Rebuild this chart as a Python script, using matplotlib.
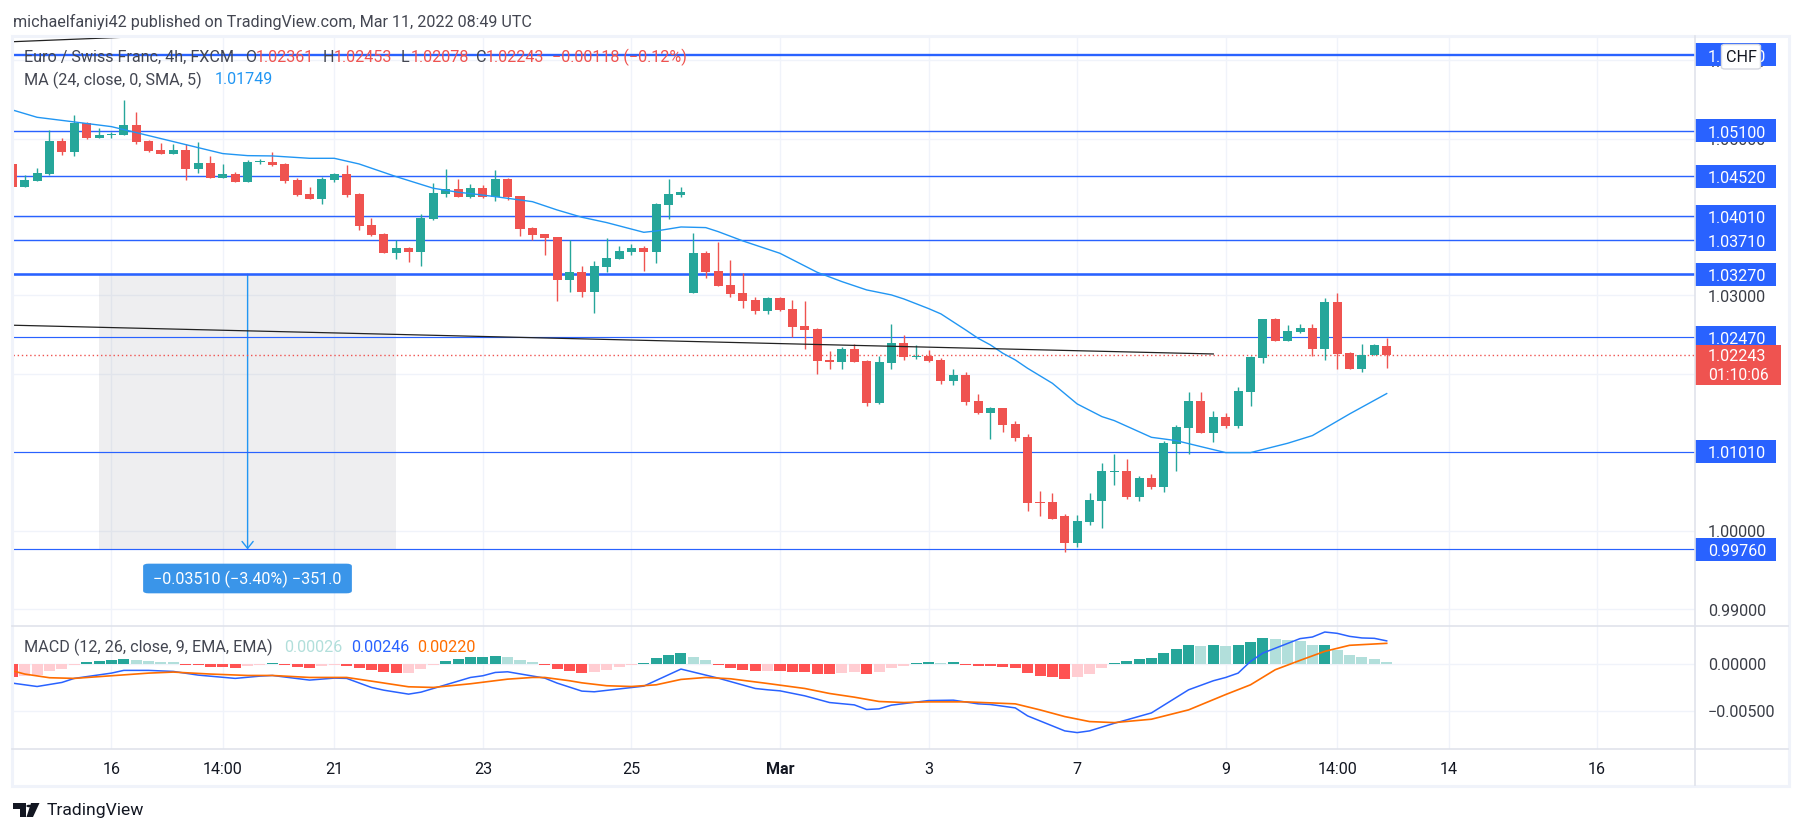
import numpy as np
import matplotlib
matplotlib.use('Agg')
import matplotlib.pyplot as plt
import matplotlib.transforms as mtransforms
from matplotlib.patches import Rectangle, FancyBboxPatch, Polygon

plt.rcParams['font.family'] = ['Roboto', 'DejaVu Sans']

# ohlc, one value per 4h bar
opens = [1.04678, 1.04389, 1.04465, 1.04555, 1.04971, 1.04835, 1.05201, 1.05014, 1.05044, 1.05052,
         1.05175, 1.04971, 1.04857, 1.04806, 1.04857, 1.04618, 1.04691, 1.04504, 1.0455, 1.04453,
         1.04704, 1.04704, 1.04678, 1.04474, 1.04295, 1.04236, 1.04474, 1.0455, 1.04295, 1.039,
         1.03785, 1.03543, 1.03607, 1.03555, 1.03976, 1.04295, 1.04359, 1.04257, 1.04372, 1.04257,
         1.04487, 1.0427, 1.03862, 1.03785, 1.03747, 1.03198, 1.033, 1.03045, 1.03365, 1.03467,
         1.03556, 1.03607, 1.03556, 1.04155, 1.04283, 1.03033, 1.03543, 1.03314, 1.03135, 1.03033,
         1.02944, 1.02803, 1.02969, 1.02829, 1.02612, 1.02574, 1.02177, 1.02152, 1.02318, 1.02165,
         1.01629, 1.02139, 1.02394, 1.02216, 1.02228, 1.02177, 1.01909, 1.01986, 1.01654, 1.01501,
         1.01565, 1.01361, 1.01195, 1.00366, 1.00366, 1.00187, 0.99843, 1.00111, 1.00379, 1.00749,
         1.00761, 1.0043, 1.00672, 1.00557, 1.01106, 1.0131, 1.01654, 1.01246, 1.0145, 1.01335,
         1.01769, 1.02203, 1.02701, 1.0242, 1.02535, 1.02586, 1.02318, 1.02917, 1.02267, 1.02063,
         1.02241, 1.02361]
highs = [1.04678, 1.04538, 1.04623, 1.05112, 1.0501, 1.05303, 1.05218, 1.05133, 1.05082, 1.05494,
         1.05341, 1.04984, 1.04942, 1.04933, 1.04937, 1.04954, 1.0478, 1.04678, 1.04572, 1.04729,
         1.04742, 1.04831, 1.04691, 1.04499, 1.04385, 1.04512, 1.04559, 1.04665, 1.04308, 1.03989,
         1.03798, 1.03709, 1.03619, 1.0404, 1.04436, 1.04614, 1.04487, 1.04423, 1.0441, 1.04601,
         1.04499, 1.0427, 1.03874, 1.03785, 1.03747, 1.03709, 1.03377, 1.03441, 1.0373, 1.03632,
         1.03658, 1.03632, 1.04177, 1.04487, 1.04385, 1.03798, 1.03569, 1.03684, 1.03454, 1.03288,
         1.02982, 1.02982, 1.02982, 1.02944, 1.02931, 1.02586, 1.02292, 1.02343, 1.02381, 1.02177,
         1.02228, 1.02638, 1.02496, 1.02369, 1.02305, 1.02203, 1.02063, 1.02024, 1.01744, 1.01578,
         1.01565, 1.01399, 1.01233, 1.00506, 1.00481, 1.00213, 1.002, 1.00481, 1.00863, 1.00978,
         1.00914, 1.00698, 1.00723, 1.01144, 1.01348, 1.01769, 1.01769, 1.01527, 1.01501, 1.01833,
         1.02229, 1.02701, 1.02713, 1.02624, 1.02637, 1.02637, 1.02968, 1.03032, 1.0228, 1.02382,
         1.02382, 1.02453]
lows = [1.04389, 1.04389, 1.04461, 1.04538, 1.04797, 1.04784, 1.05001, 1.05014, 1.05005, 1.05052,
        1.04937, 1.04835, 1.0481, 1.04806, 1.04474, 1.04567, 1.04495, 1.04499, 1.04453, 1.04453,
        1.04678, 1.04657, 1.0444, 1.0427, 1.04236, 1.04172, 1.04453, 1.04257, 1.03836, 1.0376,
        1.03543, 1.03466, 1.03428, 1.03377, 1.03964, 1.04257, 1.04257, 1.04244, 1.04244, 1.04206,
        1.04219, 1.0376, 1.03709, 1.03517, 1.0293, 1.03045, 1.02981, 1.02783, 1.03301, 1.03467,
        1.03518, 1.03314, 1.03416, 1.03977, 1.04258, 1.03033, 1.03224, 1.03122, 1.02982, 1.02842,
        1.02765, 1.02765, 1.02803, 1.02472, 1.02319, 1.02, 1.02063, 1.02063, 1.02152, 1.01591,
        1.01616, 1.02063, 1.02177, 1.0219, 1.02152, 1.01871, 1.01858, 1.01603, 1.01488, 1.0117,
        1.01259, 1.01144, 1.00251, 1.00187, 1.00149, 0.99728, 0.99792, 1.00073, 1.00034, 1.00583,
        1.00404, 1.00379, 1.00532, 1.00494, 1.00761, 1.00978, 1.01246, 1.01131, 1.0131, 1.0131,
        1.01591, 1.02139, 1.0242, 1.0242, 1.02522, 1.02229, 1.02178, 1.02063, 1.02063, 1.02024,
        1.02241, 1.02078]
closes = [1.04389, 1.04474, 1.04563, 1.04971, 1.04835, 1.05205, 1.05014, 1.05048, 1.05061, 1.05175,
          1.04954, 1.04848, 1.0481, 1.04857, 1.04618, 1.04691, 1.04504, 1.0455, 1.04453, 1.04704,
          1.04712, 1.04665, 1.04465, 1.04283, 1.04236, 1.04487, 1.0455, 1.04283, 1.03887, 1.03772,
          1.03543, 1.03607, 1.03555, 1.03989, 1.04308, 1.04359, 1.04257, 1.04372, 1.04257, 1.04487,
          1.04257, 1.03849, 1.03772, 1.03734, 1.03198, 1.033, 1.03045, 1.03377, 1.03479, 1.03569,
          1.03607, 1.03556, 1.04168, 1.04296, 1.04321, 1.03543, 1.03301, 1.03122, 1.0302, 1.02931,
          1.02803, 1.02969, 1.02816, 1.02599, 1.02561, 1.02166, 1.02152, 1.02318, 1.02152, 1.01629,
          1.02152, 1.02394, 1.02216, 1.02228, 1.02165, 1.01909, 1.01986, 1.01642, 1.01501, 1.01565,
          1.01348, 1.01182, 1.00353, 1.00353, 1.00149, 0.99843, 1.00124, 1.00391, 1.00761, 1.00761,
          1.0043, 1.00672, 1.00557, 1.01119, 1.01323, 1.01654, 1.01246, 1.0145, 1.01335, 1.01782,
          1.02216, 1.02701, 1.0242, 1.02547, 1.02586, 1.02318, 1.02917, 1.02254, 1.02063, 1.02241,
          1.02369, 1.02243]

# moving average, picked at the bars where the curve bends
ma_bars = [0, 2, 5, 8, 10, 13, 16, 17, 19, 21, 24, 26, 28, 31, 34, 36, 37, 39, 42, 44, 46, 48, 51, 52, 54,
           56, 57, 59, 62, 65, 67, 69, 71, 72, 74, 75, 77, 78, 79, 80, 81, 82, 84, 86, 88, 89, 92, 94, 96,
           98, 100, 103, 105, 108, 111]
ma_vals = [1.05367, 1.05273, 1.05214, 1.05154, 1.05078, 1.04963, 1.04848, 1.0481, 1.04784, 1.0478, 1.0475,
           1.0475, 1.04678, 1.04516, 1.04368, 1.04317, 1.043, 1.04261, 1.04197, 1.04091, 1.03998, 1.0393,
           1.03806, 1.03823, 1.03874, 1.03866, 1.03815, 1.03696, 1.03538, 1.03296, 1.03177, 1.03071, 1.03007,
           1.02956, 1.02833, 1.02765, 1.0256, 1.02454, 1.02369, 1.02263, 1.02178, 1.02071, 1.0188, 1.01617,
           1.01455, 1.01404, 1.01191, 1.01149, 1.01072, 1.00996, 1.00996, 1.01115, 1.01213, 1.01489, 1.01749]

# macd histogram, one per bar
hist = [-.00142, -.00131, -.00113, -.00071, -.0005, -.00007, .00025, .00035, .00046, .00057,
        .00046, .00035, .00025, .00025, -.00007, -.00008, -.00028, -.00029, -.00039, -.00018,
        -.00007, .00014, -.00007, -.00028, -.00039, -.00018, -.00007, -.00018, -.00039, -.0006,
        -.00082, -.00092, -.00091, -.0005, -.00007, .00035, .00057, .00078, .00079, .00089,
        .00078, .00046, .00025, -.00007, -.0005, -.00071, -.00092, -.00082, -.0006, -.00028,
        -.00007, .00014, .00067, .00099, .00121, .00078, .00046, -.00007, -.00039, -.0006,
        -.00071, -.0007, -.00072, -.00082, -.00083, -.00103, -.00104, -.00092, -.00082, -.00103,
        -.00082, -.00039, -.00018, .00014, .00025, .00014, .00025, -.00007, -.00018, -.00019,
        -.00028, -.00039, -.00092, -.00124, -.00135, -.00156, -.00135, -.00103, -.00039, .00014,
        .00035, .00057, .00067, .00121, .00163, .00206, .00195, .00206, .00195, .00206,
        .00238, .0028, .0027, .00259, .00248, .00206, .00207, .00152, .00099, .00078,
        .00057, .00026]

macd_bars = [0, 2, 4, 5, 8, 9, 11, 13, 15, 18, 20, 21, 24, 26, 27, 29, 30, 32, 33, 35, 37, 38, 39, 40, 43,
             44, 46, 47, 51, 54, 57, 60, 61, 62, 64, 66, 68, 69, 70, 71, 74, 76, 78, 79, 81, 82, 85, 86, 87,
             89, 90, 92, 95, 97, 98, 99, 100, 101, 104, 105, 106, 107, 108, 109, 110, 111]
macd_vals = [-.00202, -.00238, -.00195, -.00152, -.00096, -.00067, -.00067, -.00078, -.00117, -.00152,
             -.00128, -.00121, -.0017, -.00149, -.00152, -.00248, -.00277, -.00319, -.00298, -.0022,
             -.00142, -.00124, -.00089, -.00082, -.00149, -.00202, -.00287, -.00294, -.00234, -.00053,
             -.00149, -.00259, -.00273, -.00284, -.00337, -.00408, -.00433, -.00482, -.00475, -.00436,
             -.00387, -.00383, -.00422, -.00429, -.00465, -.0055, -.00709, -.00727, -.00709, -.00628,
             -.00592, -.00518, -.00273, -.00177, -.00142, -.00096, .00028, .00117, .0027, .00287,
             .0034, .00326, .00294, .00277, .00273, .00246]

signal_bars = [0, 1, 3, 5, 8, 11, 13, 16, 19, 21, 24, 27, 29, 32, 34, 37, 40, 42, 43, 45, 46, 48, 50, 52,
               54, 56, 58, 61, 64, 66, 68, 70, 72, 74, 77, 81, 83, 85, 87, 89, 92, 95, 98, 100, 102, 104,
               106, 108, 111]
signal_vals = [-.00071, -.00106, -.00145, -.00152, -.00124, -.00096, -.00085, -.00106, -.00121, -.00121,
               -.00142, -.00142, -.00181, -.00241, -.00248, -.00209, -.0016, -.00142, -.00142, -.00177,
               -.00199, -.0023, -.00238, -.0022, -.00163, -.00142, -.00156, -.00206, -.00259, -.00312,
               -.00351, -.00397, -.00408, -.00401, -.00401, -.00422, -.00486, -.00557, -.0061, -.00621,
               -.00585, -.00486, -.00323, -.0022, -.0006, .00039, .00135, .00199, .0022]

# horizontal levels drawn by the author: value, line width
levels = [1.0607, 1.051, 1.0452, 1.0401, 1.0371, 1.0327, 1.0247, 1.0101, 0.9976]
level_widths = [2.0, 1.2, 1.2, 1.2, 1.2, 2.2, 1.0, 1.0, 1.0]
level_labels = ['1.06070', '1.05100', '1.04520', '1.04010', '1.03710', '1.03270', '1.02470', '1.01010', '0.99760']

price_ticks = [0.99, 1.00, 1.01, 1.02, 1.03, 1.04, 1.05, 1.06]
macd_ticks = [0.0, -0.005]
macd_tick_labels = ['0.00000', '\u22120.00500']

date_bars = [8, 17, 26, 38, 50, 62, 74, 86, 98, 107, 116, 128]
date_labels = ['16', '14:00', '21', '23', '25', 'Mar', '3', '7', '9', '14:00', '14', '16']

trend_bars = [0, 97]
trend_vals = [1.02621, 1.02254]
corner_bars = [0, 11.5]
corner_vals = [1.06237, 1.0631]

measure_bars = [7, 31]
measure_top, measure_bottom, measure_arrow = 1.0327, 0.9976, 19
last_price = 1.02243

W, H = 1802, 833
UP, DOWN = '#26A69A', '#EF5350'
BLUE = '#2962FF'
GRID = '#F0F3FA'
TEXT = '#434651'
AXIS_TEXT = '#3b3e47'
FS = 11.6


def fx(px):
    return px / W


def fy(py):
    return 1 - py / H


def put(px, py, s, **kw):
    kw.setdefault('va', 'center')
    kw.setdefault('fontsize', FS)
    kw.setdefault('color', TEXT)
    return fig.text(fx(px), fy(py), s, **kw)


fig = plt.figure(figsize=(W / 100, H / 100), dpi=100, facecolor='white')

left, right = 12.6, 1695
ax = fig.add_axes([fx(left), fy(625.7), fx(right - left), (625.7 - 36) / H])
ax2 = fig.add_axes([fx(left), fy(749), fx(right - left), (749 - 625.7) / H])
for a in (ax, ax2):
    for s in a.spines.values():
        s.set_visible(False)
    a.set_xlim(0.02, 135.9)
    a.set_xticks(date_bars)
    a.tick_params(length=0, labelbottom=False, labelleft=False)
    a.grid(True, color=GRID, lw=1.0)
    a.set_axisbelow(True)
ax.set_ylim(0.98788, 1.0631)
ax.set_yticks(price_ticks)
ax2.set_ylim(-0.00901, 0.00407)
ax2.set_yticks(macd_ticks)

bars = np.arange(len(opens))
o, h, l, c = map(np.array, (opens, highs, lows, closes))
colors = [UP if cc >= oo else DOWN for oo, cc in zip(o, c)]

# measuring tool sits under the candles
ax.add_patch(Rectangle((measure_bars[0], measure_bottom), measure_bars[1] - measure_bars[0],
                       measure_top - measure_bottom, color='#787b86', alpha=0.12, lw=0, zorder=1))
ax.annotate('', xy=(measure_arrow, measure_bottom), xytext=(measure_arrow, measure_top),
            arrowprops=dict(arrowstyle='->,head_width=0.4,head_length=0.5', color='#2196F3', lw=1.0,
                            shrinkA=0, shrinkB=0), zorder=2)

for lv, lw in zip(levels, level_widths):
    ax.axhline(lv, color=BLUE, lw=lw * 0.85, zorder=2)
ax.axhline(last_price, color=DOWN, lw=1, ls=(0, (1, 2)), zorder=2)

ax.vlines(bars, l, h, colors=colors, lw=1.0, zorder=3)
ax.bar(bars, np.maximum(np.abs(c - o), 0.00012), bottom=np.minimum(o, c), width=0.73, color=colors, lw=0, zorder=3)

ax.plot(ma_bars, ma_vals, color='#2196F3', lw=1.0, zorder=4)
ax.plot(trend_bars, trend_vals, color='#222222', lw=0.9, zorder=4)
ax.plot(corner_bars, corner_vals, color='#222222', lw=0.9, zorder=4)

# macd pane, colours follow rising / falling like the indicator does
hist_colors = []
for i, v in enumerate(hist):
    prev = hist[i - 1] if i else 0
    if v >= 0:
        hist_colors.append('#26A69A' if v > prev else '#B2DFDB')
    else:
        hist_colors.append('#FF5252' if v < prev else '#FFCDD2')
ax2.bar(bars, hist, width=0.89, color=hist_colors, lw=0, zorder=3)
ax2.plot(macd_bars, macd_vals, color=BLUE, lw=1.1, zorder=4)
ax2.plot(signal_bars, signal_vals, color='#FF6D00', lw=1.2, zorder=5)

# outer frame and pane separators
fig.add_artist(Rectangle((fx(11.5), fy(786)), fx(1788.5 - 11.5), (786 - 35.5) / H, fill=False,
                         ec='#F0F3FA', lw=2.2, transform=fig.transFigure))
for py in (625.7, 749):
    fig.add_artist(plt.Line2D([fx(12), fx(1788)], [fy(py), fy(py)], color='#E0E3EB', lw=1.2))
fig.add_artist(plt.Line2D([fx(right), fx(right)], [fy(36), fy(785)], color='#E0E3EB', lw=1.2))

# price scale
tr = mtransforms.blended_transform_factory(fig.transFigure, ax.transData)
tr2 = mtransforms.blended_transform_factory(fig.transFigure, ax2.transData)
for t in price_ticks:
    ax.text(fx(1708), t - 0.00025, '%.5f' % t, transform=tr, va='center', fontsize=FS, color=AXIS_TEXT, clip_on=False, zorder=6)
for t, s in zip(macd_ticks, macd_tick_labels):
    ax2.text(fx(1708), t - 0.00016, s, transform=tr2, va='center', fontsize=FS, color=AXIS_TEXT, clip_on=False, zorder=6)
for lv, s in zip(levels, level_labels):
    ax.add_patch(Rectangle((fx(1695), lv - 0.00147), fx(81), 0.00294, transform=tr, color=BLUE, lw=0,
                           clip_on=False, zorder=7))
    ax.text(fx(1708), lv - 0.0003, s, transform=tr, va='center', fontsize=FS, color='white', clip_on=False, zorder=8)

# last price tag
ax.add_patch(Rectangle((fx(1695), last_price - 0.00385), fx(86), 0.0051, transform=tr, color=DOWN, lw=0,
                       clip_on=False, zorder=7))
ax.text(fx(1708), last_price - 0.0002, '1.02243', transform=tr, va='center', fontsize=FS, color='white', clip_on=False, zorder=8)
put(1708, 375.5, '01:10:06', color='white', fontsize=FS - 0.3, zorder=20)

# currency chip over the top label
fig.add_artist(FancyBboxPatch((fx(1721.5), fy(69)), fx(39), 24.5 / H, boxstyle='round,pad=0,rounding_size=0.002',
                              fc='white', ec='#D6D8E0', lw=1.0, transform=fig.transFigure, zorder=20))
put(1741, 57, 'CHF', ha='center', fontsize=FS, color='#131722', zorder=21)

# measure label
fig.add_artist(FancyBboxPatch((fx(146), fy(592)), fx(203), 27 / H, boxstyle='round,pad=0.0016,rounding_size=0.003',
                              fc='#3A95E9', ec='none', transform=fig.transFigure, zorder=20))
put(247.5, 579, '\u22120.03510 (\u22123.40%) \u2212351.0', ha='center', color='white', zorder=21)

# top text and legends
put(13, 21.5, 'michaelfaniyi42 published on TradingView.com, Mar 11, 2022 08:49 UTC')
put(24, 57, 'Euro / Swiss Franc, 4h, FXCM', zorder=21)
for px, s in zip((245, 323, 400.7, 475.7), 'OHLC'):
    put(px, 57, s, zorder=21)
for px, s in zip((256, 334, 410.5, 486, 552), ('1.02361', '1.02453', '1.02078', '1.02243', '\u22120.00118 (\u22120.12%)')):
    put(px, 57, s, color='#EF5350', zorder=21)
put(24, 80, 'MA (24, close, 0, SMA, 5)', zorder=21)
put(215, 80, '1.01749', color='#2196F3', zorder=21)
put(24, 647, 'MACD (12, 26, close, 9, EMA, EMA)', zorder=21)
put(284, 647, '0.00026', color='#B2DFDB', zorder=21)
put(350.7, 647, '0.00246', color=BLUE, zorder=21)
put(417, 647, '0.00220', color='#FF6D00', zorder=21)

# date labels, placed through the axis transform
tr3 = mtransforms.blended_transform_factory(ax2.transData, fig.transFigure)
for b, s in zip(date_bars, date_labels):
    ax2.text(b, fy(769), s, transform=tr3, ha='center', va='center', fontsize=FS, color='#131722',
             fontweight='bold' if s == 'Mar' else 'normal', clip_on=False)

# footer logo
for pts in ([(13, 803), (26, 803), (26, 817), (20, 817), (20, 809), (13, 809)],
            [(31, 803), (39.5, 803), (33, 817), (26.5, 817)]):
    fig.add_artist(Polygon([(fx(x), fy(y)) for x, y in pts], closed=True, fc='#131722', ec='none',
                           transform=fig.transFigure))
fig.add_artist(plt.Circle((fx(29), fy(806)), 2.7 / W, fc='#131722', ec='none', transform=fig.transFigure))
put(47, 810, 'TradingView', fontsize=12.6, color='#131722')

fig.savefig('out.png', dpi=100)
